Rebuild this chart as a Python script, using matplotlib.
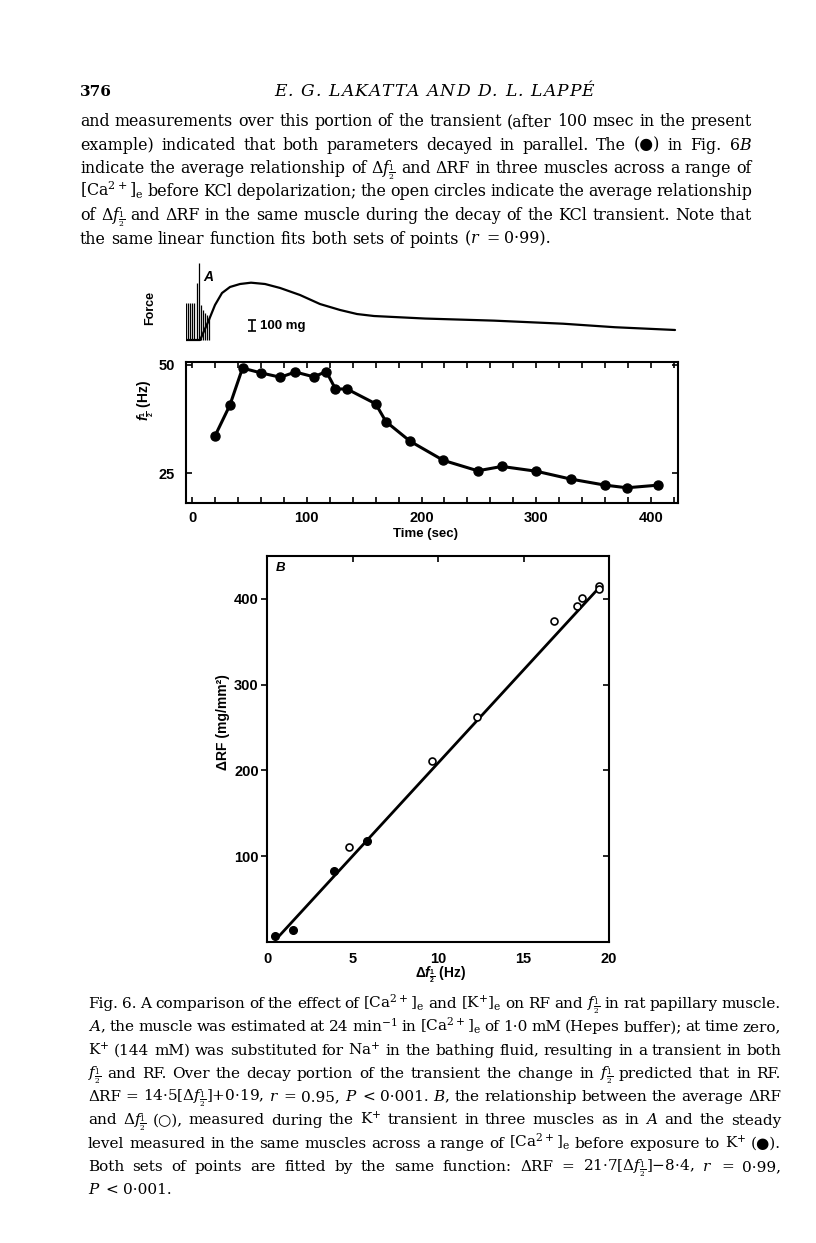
import matplotlib
matplotlib.use('Agg')
import matplotlib.pyplot as plt
import numpy as np
from matplotlib.ticker import MultipleLocator

W, H = 816, 1243
plt.rcParams['mathtext.rm'] = 'Liberation Sans:bold'
plt.rcParams['mathtext.it'] = 'Liberation Sans:italic:bold'
plt.rcParams['mathtext.bf'] = 'Liberation Sans:bold'

# ---------------- data ----------------
# Panel A, bottom: f1/2 vs time
time_s = [20, 33, 44, 60, 77, 90, 106, 117, 125, 135, 160, 169, 190, 219,
          249, 270, 300, 330, 360, 379, 406]
f_half = [33.6, 40.7, 49.2, 48.1, 47.1, 48.3, 47.2, 48.4, 44.4, 44.4, 41.0,
          36.9, 32.4, 28.0, 25.6, 26.6, 25.5, 23.7, 22.3, 21.7, 22.3]
time_ticks = [0, 100, 200, 300, 400]
fhalf_ticks = [25, 50]

# Panel A, top: force trace (mg above baseline)
force_t = [-8.7, 7.0, 14.0, 20.0, 26.1, 33.1, 41.8, 51.4, 63.6, 76.7, 94.1,
           111.5, 128.9, 143.8, 158.6, 203.1, 263.2, 323.4, 368.6, 420.9]
force_mg = [0, 0, 164, 318, 427, 482, 509, 521, 509, 473, 409, 327, 273,
            236, 218, 195, 176, 148, 116, 91]
twitch_t = [-8.5, -6.7, -5.0, -3.2, -1.5, 0.3, 2.0, 4.1, 5.8, 7.8, 9.6,
            11.3, 13.1, 14.8]
twitch_mg = [336, 336, 336, 336, 336, 336, 336, 518, 700, 318, 273, 245,
             227, 200]
scale_bar_mg = 100

# Panel B
open_x = [4.82, 9.65, 12.28, 16.81, 18.10, 18.43, 19.41, 19.41]
open_y = [110.5, 210.8, 262.4, 374.0, 392.0, 401.0, 415.0, 411.0]
filled_x = [0.45, 1.52, 3.90, 5.86]
filled_y = [7.4, 14.3, 83.3, 117.4]
fit_slope, fit_intercept = 21.7, -8.4
fit_range = [0.75, 19.4]
b_xticks = [0, 5, 10, 15, 20]
b_yticks = [100, 200, 300, 400]

# ---------------- text ----------------
DF = r"\Delta{f}_{\frac{1}{2}}"
FH = r"{f}_{\frac{1}{2}}"
CA = r"[\mathrm{Ca}^{2+}]_{\mathrm{e}}"
header_num = "376"
header_title = "E. G. LAKATTA AND D. L. LAPPÉ"
body_lines = [
    "and measurements over this portion of the transient (after 100 msec in the present",
    r"example) indicated that both parameters decayed in parallel. The (●) in Fig. 6$B$",
    "indicate the average relationship of $" + DF + "$ and ΔRF in three muscles across a range of",
    "$" + CA + "$ before KCl depolarization; the open circles indicate the average relationship",
    "of $" + DF + "$ and ΔRF in the same muscle during the decay of the KCl transient. Note that",
    r"the same linear function fits both sets of points ($r$ = 0·99).",
]
caption_lines = [
    "Fig. 6. A comparison of the effect of $" + CA + r"$ and $[\mathrm{K}^{+}]_{\mathrm{e}}$ on RF and $" + FH + "$ in rat papillary muscle.",
    r"$A$, the muscle was estimated at 24 $\mathrm{min}^{-1}$ in $" + CA + "$ of 1·0 mM (Hepes buffer); at time zero,",
    r"$\mathrm{K}^{+}$ (144 mM) was substituted for $\mathrm{Na}^{+}$ in the bathing fluid, resulting in a transient in both",
    "$" + FH + "$ and RF. Over the decay portion of the transient the change in $" + FH + "$ predicted that in RF.",
    "ΔRF = 14·5$[" + DF + r"]$+0·19, $r$ = 0.95, $P$ < 0·001. $B$, the relationship between the average ΔRF",
    "and $" + DF + r"$ (○), measured during the $\mathrm{K}^{+}$ transient in three muscles as in $A$ and the steady",
    "level measured in the same muscles across a range of $" + CA + r"$ before exposure to $\mathrm{K}^{+}$ (●).",
    "Both sets of points are fitted by the same function: ΔRF = 21·7$[" + DF + r"]$−8·4, $r$ = 0·99,",
    r"$P$ < 0·001.",
]

SANS = 'Liberation Sans'
SERIF = ['DejaVu Serif', 'DejaVu Sans']

fig = plt.figure(figsize=(W / 100, H / 100), dpi=100)
fig.patch.set_facecolor('white')
renderer = fig.canvas.get_renderer()


def add_ax(l, t, r, b):
    return fig.add_axes([l / W, 1 - b / H, (r - l) / W, (b - t) / H])


def ptext(x, y, s, **kw):
    return fig.text(x / W, 1 - y / H, s, **kw)


def measure(s, size, **kw):
    t = ptext(0, 0, s, fontsize=size, family=SERIF, math_fontfamily='dejavuserif', **kw)
    w = t.get_window_extent(renderer).width
    t.remove()
    return w


def space_width(size):
    return measure('a a', size) - measure('aa', size)


def fit_size(lines, width, ref=10.0):
    ratios = []
    sp = space_width(ref)
    for ln in lines[:-1]:
        words = ln.split(' ')
        nat = sum(measure(w, ref) for w in words) + sp * (len(words) - 1)
        ratios.append(width / nat)
    return ref * float(np.median(ratios))


def justify(line, x0, x1, y, size, last=False):
    words = line.split(' ')
    objs = [ptext(0, y, w, fontsize=size, family=SERIF, va='baseline',
                  math_fontfamily='dejavuserif') for w in words]
    widths = [o.get_window_extent(renderer).width for o in objs]
    if last or len(words) == 1:
        gap = space_width(size)
    else:
        gap = (x1 - x0 - sum(widths)) / (len(words) - 1)
    x = x0
    for o, w in zip(objs, widths):
        o.set_position((x / W, 1 - y / H))
        x += w + gap


def tracked(text, x0, x1, y, size, **kw):
    chars = list(text)
    widths = [measure(c if c != ' ' else 'a a', size, **kw) -
              (measure('aa', size, **kw) if c == ' ' else 0) for c in chars]
    extra = (x1 - x0 - sum(widths)) / (len(chars) - 1)
    x = x0
    for c, w in zip(chars, widths):
        if c != ' ':
            ptext(x, y, c, fontsize=size, family=SERIF, va='baseline', **kw)
        x += w + extra


# header
ptext(80, 96, header_num, fontsize=11, family=SERIF, va='baseline', fontweight='bold')
tracked(header_title, 274, 594, 96, 12.3, style='italic')

body_size = fit_size(body_lines, 752 - 80)
for i, ln in enumerate(body_lines):
    justify(ln, 80, 752, 126 + 23.5 * i, body_size, last=(i == len(body_lines) - 1))

cap_size = fit_size(caption_lines, 781 - 88)
for i, ln in enumerate(caption_lines):
    justify(ln, 88, 781, 1008 + 23.3 * i, cap_size, last=(i == len(caption_lines) - 1))

lab_kw = dict(family=SANS, fontweight='bold', math_fontfamily='custom')
TICK_SIZE = 10.5

# ---------------- force trace ----------------
axF = add_ax(185.5, 255, 678, 345)
axF.set_xlim(-5.7, 423.5)
axF.set_ylim(-45.5, 772.7)
axF.axis('off')
axF.plot(force_t, force_mg, color='black', lw=1.6, solid_capstyle='round')
axF.vlines(twitch_t, 0, twitch_mg, color='black', lw=0.9)
axF.errorbar([52], [130], yerr=[scale_bar_mg / 2], fmt='none', ecolor='black',
             elinewidth=1.2, capsize=3, capthick=1.2)
axF.text(59, 130, f'{scale_bar_mg} mg', va='center', ha='left', fontsize=9.5, **lab_kw)
ptext(208, 281, 'A', fontsize=10, family=SANS, fontweight='bold', style='italic',
      ha='center')
ptext(150, 308, 'Force', fontsize=9, rotation=90, ha='center', va='center', **lab_kw)

# ---------------- panel A ----------------
axA = add_ax(185.5, 362, 678, 503)
axA.plot(time_s, f_half, color='black', lw=2.2, marker='o', ms=6.5,
         solid_joinstyle='round')
axA.set_xlim(-5.7, 423.5)
axA.set_ylim(18.2, 50.6)
axA.set_xticks(time_ticks)
axA.xaxis.set_minor_locator(MultipleLocator(20))
axA.set_yticks(fhalf_ticks)
axA.tick_params(axis='x', which='both', direction='in', top=True, bottom=True,
                length=4.5, width=1.2, pad=5.5)
axA.tick_params(axis='y', which='both', direction='in', left=True, right=True,
                length=4.5, width=1.2, pad=7.5)
for lab in axA.get_xticklabels() + axA.get_yticklabels():
    lab.set_family(SANS)
    lab.set_fontweight('bold')
    lab.set_fontsize(TICK_SIZE)
for sp in axA.spines.values():
    sp.set_linewidth(1.5)
ptext(425, 534, 'Time (sec)', fontsize=9.5, ha='center', va='center', **lab_kw)
ptext(146, 400, '$' + FH + '$ (Hz)', fontsize=10, rotation=90, ha='center',
      va='center', **lab_kw)

# ---------------- panel B ----------------
axB = add_ax(267, 556, 609, 942)
fx_line = np.array(fit_range)
axB.plot(fx_line, fit_slope * fx_line + fit_intercept, color='black', lw=2.0, zorder=2)
axB.plot(filled_x, filled_y, 'o', color='black', ms=5.5, zorder=3)
axB.plot(open_x, open_y, 'o', mfc='white', mec='black', mew=1.2, ms=5, zorder=3)
axB.set_xlim(0, 20)
axB.set_ylim(0, 450)
axB.set_xticks(b_xticks)
axB.set_yticks(b_yticks)
axB.tick_params(axis='x', direction='in', top=True, bottom=False, length=4.5,
                width=1.2, pad=7.5)
axB.tick_params(axis='y', direction='out', left=True, right=False, length=4,
                width=1.2, pad=2)
for lab in axB.get_xticklabels() + axB.get_yticklabels():
    lab.set_family(SANS)
    lab.set_fontweight('bold')
    lab.set_fontsize(TICK_SIZE)
for sp in axB.spines.values():
    sp.set_linewidth(1.5)
axR = axB.twinx()
axR.set_ylim(0, 450)
axR.set_yticks(b_yticks)
axR.tick_params(axis='y', direction='in', right=True, length=4.5, width=1.2,
                labelright=False)
for sp in axR.spines.values():
    sp.set_visible(False)
axB.text(0.025, 0.985, 'B', transform=axB.transAxes, ha='left', va='top',
         fontsize=9.5, family=SANS, fontweight='bold', style='italic')
ptext(223, 722, 'ΔRF (mg/mm²)', fontsize=10, rotation=90, ha='center',
      va='center', **lab_kw)
ptext(441, 975, 'Δ$' + FH + '$ (Hz)', fontsize=10, ha='center',
      va='center', **lab_kw)

fig.savefig('out.png', dpi=100, facecolor='white')
